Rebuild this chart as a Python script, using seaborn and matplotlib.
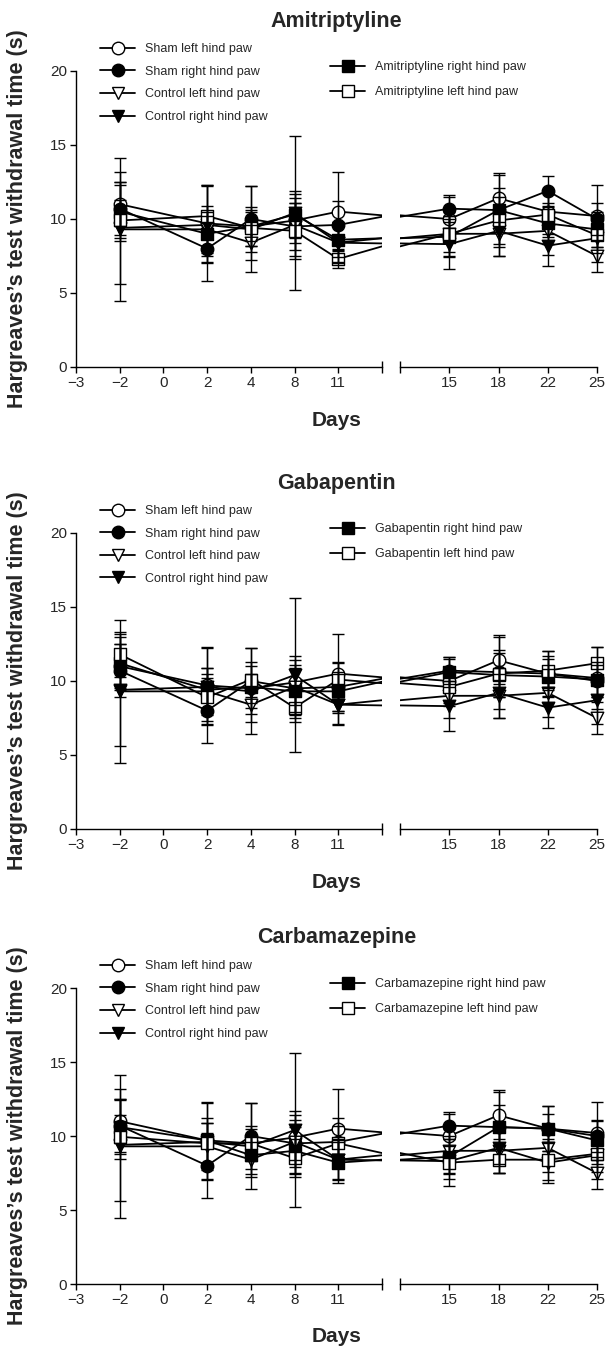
import matplotlib
matplotlib.use("Agg")
import matplotlib.pyplot as plt
from matplotlib.lines import Line2D
import seaborn as sns

# ---- data -----------------------------------------------------------------
days = [-2, 2, 4, 8, 11, 15, 18, 22, 25]
# slots of the broken x axis (None = the gap)
slots = [-3, -2, 0, 2, 4, 8, 11, None, 15, 18, 22, 25]
left_ticks = [-3, -2, 0, 2, 4, 8, 11]
right_ticks = [15, 18, 22, 25]

sham_left = [11.0, 9.7, 9.5, 9.9, 10.5, 10.0, 11.4, 10.5, 10.2]
sham_left_sd = [1.5, 2.6, 1.0, 1.5, 2.65, 1.5, 1.6, 1.5, 2.1]
sham_right = [10.7, 8.0, 10.0, 9.5, 9.6, 10.7, 10.6, 10.5, 10.0]
sham_right_ami = [10.7, 8.0, 10.0, 9.5, 9.6, 10.7, 10.6, 11.9, 10.0]
sham_right_sd = [1.8, 2.2, 2.2, 1.6, 1.6, 0.9, 2.5, 1.0, 1.1]
control_left = [9.3, 9.3, 8.4, 9.6, 8.4, 9.0, 9.0, 9.2, 7.5]
control_left_sd = [4.85, 1.6, 1.2, 2.1, 1.3, 1.5, 1.5, 1.6, 1.05]
control_right = [9.4, 9.6, 9.3, 10.4, 8.4, 8.3, 9.2, 8.2, 8.7]
control_right_sd = [3.8, 2.6, 2.9, 5.2, 1.4, 1.7, 1.7, 1.4, 1.6]

ami_right = [10.5, 9.0, 9.5, 10.3, 8.6, 8.8, 10.6, 9.7, 9.3]
ami_right_sd = [1.8, 1.5, 1.3, 1.6, 1.2, 1.4, 1.5, 1.4, 1.2]
ami_left = [9.9, 10.2, 9.4, 9.2, 7.3, 9.0, 9.9, 10.3, 8.9]
ami_left_sd = [1.4, 2.1, 1.2, 1.9, 0.6, 1.2, 1.6, 1.5, 1.2]

gaba_right = [11.2, 9.4, 9.6, 9.3, 9.3, 10.6, 10.4, 10.3, 10.1]
gaba_right_sd = [1.8, 1.5, 1.4, 1.6, 1.3, 1.0, 1.5, 1.4, 1.2]
gaba_left = [11.8, 8.9, 10.1, 8.2, 10.1, 9.6, 10.5, 10.7, 11.2]
gaba_left_sd = [1.5, 1.6, 1.2, 1.0, 1.2, 1.3, 1.6, 1.3, 1.1]

carb_right = [10.6, 9.7, 8.7, 9.0, 8.2, 8.6, 10.6, 10.5, 9.7]
carb_right_sd = [1.8, 1.5, 1.3, 1.6, 1.4, 1.2, 1.5, 1.5, 1.3]
carb_left = [9.95, 9.5, 9.5, 8.5, 9.5, 8.2, 8.4, 8.4, 8.8]
carb_left_sd = [1.5, 1.4, 1.2, 1.3, 1.2, 1.1, 0.9, 1.4, 1.2]

drugs = ["Amitriptyline", "Gabapentin", "Carbamazepine"]
drug_data = {
    "Amitriptyline": (sham_right_ami, ami_right, ami_right_sd, ami_left, ami_left_sd),
    "Gabapentin": (sham_right, gaba_right, gaba_right_sd, gaba_left, gaba_left_sd),
    "Carbamazepine": (sham_right, carb_right, carb_right_sd, carb_left, carb_left_sd),
}

# ---- style ----------------------------------------------------------------
sns.set_style("ticks")
plt.rcParams["font.family"] = ["Liberation Sans", "DejaVu Sans"]
plt.rcParams["axes.unicode_minus"] = True

W, H = 605, 1347
tops = [71, 533, 988]
AX_H = 296
LX0, LX1, RX0, RX1 = 76, 382, 400, 597
MS = 9
LW = 1.3

fig = plt.figure(figsize=(W / 100, H / 100), dpi=100)


def rect(x0, x1, top):
    return [x0 / W, 1 - (top + AX_H) / H, (x1 - x0) / W, AX_H / H]


def pos(d):
    return slots.index(d)


def draw_series(ax, ys, sd, marker, filled, lo, hi):
    xs = [pos(d) for d in days]
    sns.lineplot(x=xs, y=ys, ax=ax, color="black", lw=LW, sort=False,
                 errorbar=None, zorder=2)
    keep = [i for i, x in enumerate(xs) if lo <= x <= hi]
    kx = [xs[i] for i in keep]
    ky = [ys[i] for i in keep]
    ks = [sd[i] for i in keep]
    sns.scatterplot(x=kx, y=ky, ax=ax, marker=marker, s=MS ** 2,
                    color="black" if filled else "white", edgecolor="black",
                    linewidth=1, zorder=3, clip_on=False, legend=False)
    ax.errorbar(kx, ky, yerr=ks, fmt="none", ecolor="black", elinewidth=1,
                capsize=4.5, capthick=1, zorder=4, clip_on=False)


for drug, top in zip(drugs, tops):
    s_right, d_right, d_right_sd, d_left, d_left_sd = drug_data[drug]
    series = [
        ("Sham left hind paw", sham_left, sham_left_sd, "o", False),
        ("Sham right hind paw", s_right, sham_right_sd, "o", True),
        ("Control left hind paw", control_left, control_left_sd, "v", False),
        ("Control right hind paw", control_right, control_right_sd, "v", True),
        (f"{drug} right hind paw", d_right, d_right_sd, "s", True),
        (f"{drug} left hind paw", d_left, d_left_sd, "s", False),
    ]

    axL = fig.add_axes(rect(LX0, LX1, top))
    axR = fig.add_axes(rect(RX0, RX1, top))
    limL = (0, pos(11) + 1)
    limR = (pos(15) - 1, pos(25))

    for ax, lim in ((axL, limL), (axR, limR)):
        for label, ys, sd, m, f in series:
            draw_series(ax, ys, sd, m, f, lim[0], lim[1])
        ax.set_xlim(lim)
        ax.set_ylim(0, 20)
        ax.set_xlabel("")
        ax.set_ylabel("")
        for sp in ("top", "right"):
            ax.spines[sp].set_visible(False)
        ax.spines["bottom"].set_linewidth(1)
        ax.spines["bottom"].set_color("black")
        ax.tick_params(axis="both", direction="out", length=4.5, width=1,
                       color="black", labelsize=11, pad=2)

    axL.set_xticks([pos(d) for d in left_ticks])
    axL.set_xticklabels([str(d).replace("-", "\u2212") for d in left_ticks])
    axR.set_xticks([pos(d) for d in right_ticks])
    axR.set_xticklabels([str(d) for d in right_ticks])
    axL.set_yticks([0, 5, 10, 15, 20])
    axL.spines["left"].set_linewidth(1)
    axL.spines["left"].set_color("black")
    axR.spines["left"].set_visible(False)
    axR.tick_params(axis="y", left=False, labelleft=False)

    # break marks at the ends of the two x-axis pieces
    axL.plot(axL.get_xlim()[1], 0, marker="|", ms=8, mew=1, color="black",
             clip_on=False, zorder=5)
    axR.plot(axR.get_xlim()[0], 0, marker="|", ms=8, mew=1, color="black",
             clip_on=False, zorder=5)

    cx = (LX0 + RX1) / 2 / W
    fig.text(cx, 1 - (top - 50) / H, drug, ha="center", va="center",
             fontsize=15.5, fontweight="bold")
    fig.text(cx, 1 - (top + AX_H + 53) / H, "Days", ha="center", va="center",
             fontsize=15, fontweight="bold")
    fig.text(18 / W, 1 - (top + 148) / H,
             "Hargreaves\u2019s test withdrawal time (s)", rotation=90,
             ha="center", va="center", fontsize=15.5, fontweight="bold")

    handles = [Line2D([], [], color="black", lw=LW, marker=m, ms=MS,
                      mfc="black" if f else "white", mec="black", mew=1)
               for _, _, _, m, f in series]
    labels = [s[0] for s in series]
    axL.legend(handles[:4], labels[:4], loc="upper left",
               bbox_to_anchor=(100 / W, 1 - (top - 28) / H),
               bbox_transform=fig.transFigure, frameon=False,
               prop={"size": 9, "weight": "normal"}, handlelength=2.8,
               handletextpad=0.8, labelspacing=0.85, borderpad=0,
               borderaxespad=0)
    axR.legend(handles[4:], labels[4:], loc="upper left",
               bbox_to_anchor=(330 / W, 1 - (top - 10) / H),
               bbox_transform=fig.transFigure, frameon=False,
               prop={"size": 9, "weight": "normal"}, handlelength=2.8,
               handletextpad=0.8, labelspacing=1.05, borderpad=0,
               borderaxespad=0)

fig.savefig("out.png", dpi=100)
